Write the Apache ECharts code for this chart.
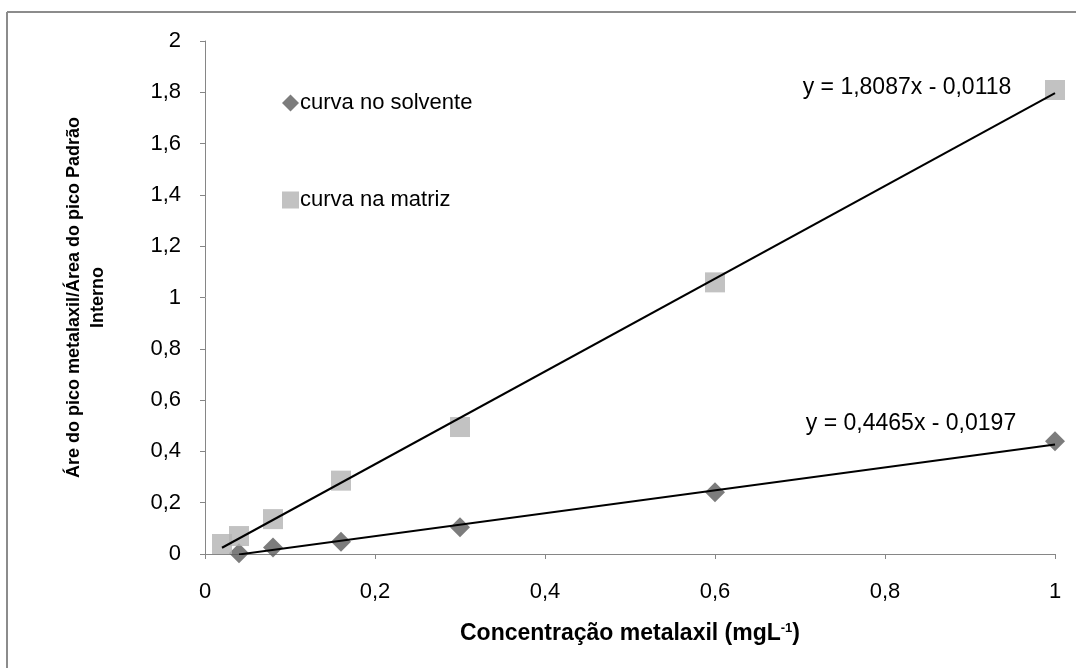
<!DOCTYPE html>
<html>
<head>
<meta charset="utf-8">
<script src="https://cdn.jsdelivr.net/npm/echarts@6/dist/echarts.min.js"></script>
<style>
  html, body { margin: 0; padding: 0; background: #fff; }
  #chart { width: 1076px; height: 668px; }
</style>
</head>
<body>
<div id="chart"></div>
<script>
// Calibration data: metalaxil concentration (mg/L) vs peak-area ratio
const solventX = [0.04, 0.08, 0.16, 0.3, 0.6, 1.0];
const solventY = [0.003, 0.025, 0.048, 0.104, 0.241, 0.44];
const matrixX = [0.02, 0.04, 0.08, 0.16, 0.3, 0.6, 1.0];
const matrixY = [0.039, 0.07, 0.136, 0.286, 0.495, 1.059, 1.809];

// Linear fits (slope, intercept) and the range each fit spans
const solventFit = { slope: 0.4465, intercept: -0.0197, from: 0.04, to: 1.0 };
const matrixFit = { slope: 1.8087, intercept: -0.0118, from: 0.02, to: 1.0 };

const xTicks = [0, 0.2, 0.4, 0.6, 0.8, 1];
const yTicks = [0, 0.2, 0.4, 0.6, 0.8, 1, 1.2, 1.4, 1.6, 1.8, 2];

const FONT = '"Liberation Sans", "DejaVu Sans", sans-serif';
const TXT = 22;

function fmt(v) {
  return String(Math.round(v * 10) / 10).replace('.', ',');
}
function fitLabel(f) {
  const s = f.slope.toFixed(4).replace('.', ',');
  const b = Math.abs(f.intercept).toFixed(4).replace('.', ',');
  return 'y = ' + s + 'x ' + (f.intercept < 0 ? '- ' : '+ ') + b;
}
function fitLine(f, labelOffset) {
  const y0 = f.slope * f.from + f.intercept;
  const y1 = f.slope * f.to + f.intercept;
  return [
    [f.from, y0],
    {
      value: [f.to, y1],
      label: {
        show: true,
        formatter: fitLabel(f),
        position: 'inside',
        offset: labelOffset,
        color: '#000',
        fontFamily: FONT,
        fontSize: 23
      }
    }
  ];
}
function fitSeries(name, f, labelOffset) {
  return {
    name: name,
    type: 'line',
    data: fitLine(f, labelOffset),
    showSymbol: true,
    symbol: 'circle',
    symbolSize: 0,
    lineStyle: { color: '#000', width: 2 },
    itemStyle: { color: '#000' },
    silent: true,
    z: 3
  };
}

const chart = echarts.init(document.getElementById('chart'));
chart.setOption({
  animation: false,
  backgroundColor: '#fff',
  grid: { left: 205, right: 21, top: 41, bottom: 114, containLabel: false },
  legend: {
    orient: 'vertical',
    left: 277,
    top: 87,
    itemGap: 75,
    itemWidth: 17,
    itemHeight: 17,
    textStyle: { fontFamily: FONT, fontSize: TXT, color: '#000', padding: [0, 0, 0, -4] },
    data: [
      { name: 'curva no solvente', icon: 'diamond' },
      { name: 'curva na matriz', icon: 'rect' }
    ]
  },
  xAxis: {
    type: 'value',
    min: 0, max: 1, interval: 0.2,
    splitLine: { show: false },
    axisLine: { lineStyle: { color: '#868686', width: 1 } },
    axisTick: { show: true, length: 5, lineStyle: { color: '#868686' } },
    axisLabel: {
      fontFamily: FONT, fontSize: TXT, color: '#000', margin: 27,
      formatter: v => fmt(v)
    },
    name: '{b|Concentração metalaxil (mgL}{s|-1}{b|)}',
    nameLocation: 'middle',
    nameGap: 68,
    nameTextStyle: {
      rich: {
        b: { fontFamily: FONT, fontSize: 23, fontWeight: 'bold', color: '#000' },
        s: { fontFamily: FONT, fontSize: 13, fontWeight: 'bold', color: '#000', verticalAlign: 'top', padding: [0, 0, 10, 0] }
      }
    }
  },
  yAxis: {
    type: 'value',
    min: 0, max: 2, interval: 0.2,
    splitLine: { show: false },
    axisLine: { show: true, lineStyle: { color: '#868686', width: 1 } },
    axisTick: { show: true, length: 5, lineStyle: { color: '#868686' } },
    axisLabel: {
      fontFamily: FONT, fontSize: TXT, color: '#000', margin: 24,
      formatter: v => fmt(v)
    },
    name: 'Áre do pico metalaxil/Área do pico Padrão\nInterno',
    nameLocation: 'middle',
    nameGap: 95,
    nameRotate: 90,
    nameTextStyle: {
      fontFamily: FONT, fontSize: 18, fontWeight: 'bold', color: '#000',
      lineHeight: 24, align: 'center'
    }
  },
  series: [
    fitSeries('ajuste solvente', solventFit, [-144, -21]),
    fitSeries('ajuste matriz', matrixFit, [-148, -5]),
    {
      name: 'curva no solvente',
      type: 'scatter',
      symbol: 'diamond',
      symbolSize: 20,
      itemStyle: { color: '#5b5b5b' },
      data: solventX.map((x, i) => [x, solventY[i]]),
      z: 2
    },
    {
      name: 'curva na matriz',
      type: 'scatter',
      symbol: 'rect',
      symbolSize: 20,
      itemStyle: { color: '#b3b3b3' },
      data: matrixX.map((x, i) => [x, matrixY[i]]),
      z: 2
    }
  ],
  graphic: [
    { type: 'line', shape: { x1: 7, y1: 12, x2: 7, y2: 668 }, style: { stroke: '#8c8c8c', lineWidth: 2 } },
    { type: 'line', shape: { x1: 7, y1: 12, x2: 1076, y2: 12 }, style: { stroke: '#8c8c8c', lineWidth: 2 } }
  ]
});
</script>
</body>
</html>
